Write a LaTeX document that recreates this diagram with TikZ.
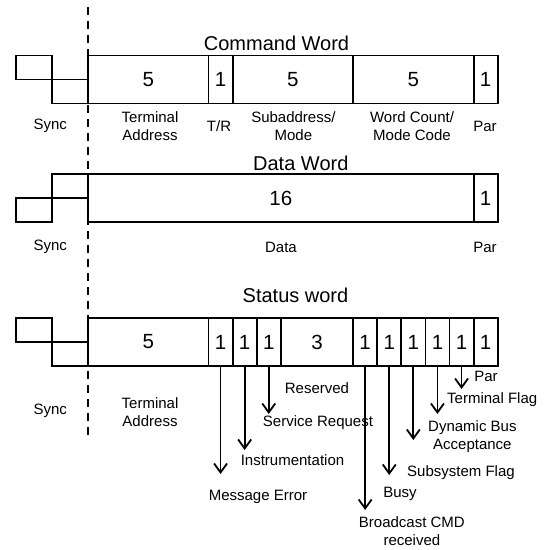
\documentclass[tikz,border=0pt]{standalone}
\usepackage{fontspec}
\setmainfont{Liberation Sans}
\usetikzlibrary{arrows.meta}
\begin{document}
\begin{tikzpicture}[x=1pt,y=-1pt,
  field/.style={draw,line width=1.8pt,inner sep=0pt,minimum height=48pt,font=\fontsize{20.5}{22}\selectfont},
  title/.style={font=\fontsize{20}{22}\selectfont,inner sep=0pt},
  lbl/.style={font=\fontsize{15}{18.5}\selectfont,align=center,inner sep=0pt},
  wire/.style={line width=1.8pt},
  arr/.style={line width=1.8pt,-{Straight Barb[length=9pt,width=13pt,line width=1.8pt]}}
]
\useasboundingbox[fill=white] (0,0) rectangle (548,550);
% dashed separator
\coordinate (dtop) at (88,7);
\coordinate (dbot) at (88,438);
\draw[line width=1.8pt,dash pattern=on 8pt off 6pt] (dtop) -- (dbot);

% ---------- Command Word ----------
\node[title] (ctitle) at (276.5,43) {Command Word};
\draw[wire] (88,79.5) -- (15.7,79.5) -- (15.7,55.5) -- (51.85,55.5) -- (51.85,103.5) -- (88,103.5);
\node[field,minimum width=120.5pt] (c1) at (148.25,79.5) {5};
\node[field,minimum width=24.1pt] (c2) at (220.55,79.5) {1};
\node[field,minimum width=120.5pt] (c3) at (292.85,79.5) {5};
\node[field,minimum width=120.5pt] (c4) at (413.35,79.5) {5};
\node[field,minimum width=24.1pt] (c5) at (485.65,79.5) {1};
\node[lbl] (csync) at (50.3,126) {Sync};
\node[lbl] (cta) at (150,126) {Terminal\\Address};
\node[lbl] (ctr) at (219,126) {T/R};
\node[lbl] (csa) at (293.4,126) {Subaddress/\\Mode};
\node[lbl] (cwc) at (412,126) {Word Count/\\Mode Code};
\node[lbl] (cpar) at (485,126) {Par};

% ---------- Data Word ----------
\node[title] (dtitle) at (300.8,163) {Data Word};
\draw[wire] (88,174) -- (51.85,174) -- (51.85,222) -- (15.7,222) -- (15.7,198) -- (88,198);
\node[field,minimum width=385.6pt] (d1) at (280.8,198) {16};
\node[field,minimum width=24.1pt] (d2) at (485.65,198) {1};
\node[lbl] (dsync) at (50.3,247) {Sync};
\node[lbl] (ddata) at (281,247) {Data};
\node[lbl] (dpar) at (485,247) {Par};

% ---------- Status Word ----------
\node[title] (stitle) at (295.5,295) {Status word};
\draw[wire] (88,342) -- (15.7,342) -- (15.7,318) -- (51.85,318) -- (51.85,366) -- (88,366);
\node[field,minimum width=120.5pt] (s1) at (148.25,342) {5};
\node[field,minimum width=24.1pt] (s2) at (220.55,342) {1};
\node[field,minimum width=24.1pt] (s3) at (244.65,342) {1};
\node[field,minimum width=24.1pt] (s4) at (268.75,342) {1};
\node[field,minimum width=72.3pt] (s5) at (316.95,342) {3};
\node[field,minimum width=24.1pt] (s6) at (365.15,342) {1};
\node[field,minimum width=24.1pt] (s7) at (389.25,342) {1};
\node[field,minimum width=24.1pt] (s8) at (413.35,342) {1};
\node[field,minimum width=24.1pt] (s9) at (437.45,342) {1};
\node[field,minimum width=24.1pt] (s10) at (461.55,342) {1};
\node[field,minimum width=24.1pt] (s11) at (485.65,342) {1};
\node[lbl] (ssync) at (50.3,411) {Sync};
\node[lbl] (sta) at (150,412) {Terminal\\Address};

\node[lbl] (lpar) at (486,376) {Par};
\node[lbl,anchor=west] (ltf) at (447,400) {Terminal Flag};
\node[lbl] (lres) at (317,388) {Reserved};
\node[lbl,anchor=north west,align=center] (ldb) at (428,420) {Dynamic Bus\\Acceptance};
\node[lbl] (lsr) at (318,423) {Service Request};
\node[lbl] (lin) at (292.5,460) {Instrumentation};
\node[lbl] (lsf) at (461,473) {Subsystem Flag};
\node[lbl] (lbusy) at (400,494) {Busy};
\node[lbl] (lme) at (258,497) {Message Error};
\node[lbl] (lbc) at (411.9,531) {Broadcast CMD\\received};

\coordinate (e2) at (220.55,474);
\coordinate (e3) at (244.65,450);
\coordinate (e4) at (268.75,414);
\coordinate (e6) at (365.15,510);
\coordinate (e7) at (389.25,475);
\coordinate (e8) at (413.35,440);
\coordinate (e9) at (437.45,414);
\coordinate (e10) at (461.55,389);
\draw[arr] (s2.south) -- (e2);
\draw[arr] (s3.south) -- (e3);
\draw[arr] (s4.south) -- (e4);
\draw[arr] (s6.south) -- (e6);
\draw[arr] (s7.south) -- (e7);
\draw[arr] (s8.south) -- (e8);
\draw[arr] (s9.south) -- (e9);
\draw[arr] (s10.south) -- (e10);
\end{tikzpicture}
\end{document}
